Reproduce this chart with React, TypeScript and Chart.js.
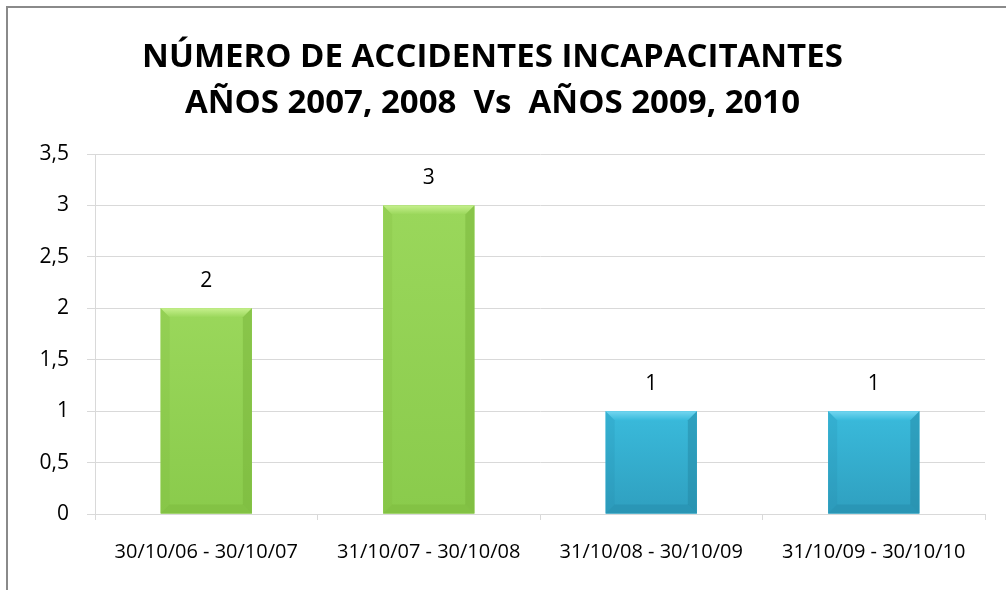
import React, { useEffect, useRef } from "react";
import { Chart, registerables } from "chart.js";

Chart.register(...registerables);

const categories = [
  "30/10/06 - 30/10/07",
  "31/10/07 - 30/10/08",
  "31/10/08 - 30/10/09",
  "31/10/09 - 30/10/10",
];
const accidentes = [2, 3, 1, 1];
const titleLines = [
  "NÚMERO DE ACCIDENTES INCAPACITANTES",
  "AÑOS 2007, 2008  Vs  AÑOS 2009, 2010",
];
const yMin = 0;
const yMax = 3.5;
const yStep = 0.5;

const green = { face: "#9ad75b", top: "#c6f08d", dark: "#78b43a", side: "#8acb4c" };
const blue = { face: "#3abbdc", top: "#74d6f0", dark: "#2387a4", side: "#2f9fbf" };
const palette = [green, green, blue, blue];

const bevelPlugin = {
  id: "bevel",
  afterDatasetsDraw(chart: any) {
    const ctx = chart.ctx;
    const meta = chart.getDatasetMeta(0);
    meta.data.forEach((bar: any, i: number) => {
      const c = palette[i];
      const left = bar.x - bar.width / 2;
      const right = bar.x + bar.width / 2;
      const top = bar.y;
      const bottom = bar.base;
      const b = 9;
      ctx.save();
      const g = ctx.createLinearGradient(0, top, 0, bottom);
      g.addColorStop(0, c.face);
      g.addColorStop(1, c.side);
      ctx.fillStyle = g;
      ctx.fillRect(left, top, right - left, bottom - top);
      const tg = ctx.createLinearGradient(0, top, 0, top + b);
      tg.addColorStop(0, c.top);
      tg.addColorStop(1, c.face);
      ctx.fillStyle = tg;
      ctx.beginPath();
      ctx.moveTo(left, top);
      ctx.lineTo(right, top);
      ctx.lineTo(right - b, top + b);
      ctx.lineTo(left + b, top + b);
      ctx.closePath();
      ctx.fill();
      ctx.fillStyle = c.dark;
      ctx.globalAlpha = 0.5;
      ctx.beginPath();
      ctx.moveTo(right, top);
      ctx.lineTo(right, bottom);
      ctx.lineTo(right - b, bottom - b);
      ctx.lineTo(right - b, top + b);
      ctx.closePath();
      ctx.fill();
      ctx.globalAlpha = 0.4;
      ctx.beginPath();
      ctx.moveTo(left, bottom);
      ctx.lineTo(right, bottom);
      ctx.lineTo(right - b, bottom - b);
      ctx.lineTo(left + b, bottom - b);
      ctx.closePath();
      ctx.fill();
      ctx.globalAlpha = 0.18;
      ctx.beginPath();
      ctx.moveTo(left, top);
      ctx.lineTo(left + b, top + b);
      ctx.lineTo(left + b, bottom - b);
      ctx.lineTo(left, bottom);
      ctx.closePath();
      ctx.fill();
      ctx.restore();
    });
  },
};

const labelPlugin = {
  id: "valueLabels",
  afterDatasetsDraw(chart: any) {
    const ctx = chart.ctx;
    const meta = chart.getDatasetMeta(0);
    ctx.save();
    ctx.font = "21px 'Open Sans'";
    ctx.fillStyle = "#000";
    ctx.textAlign = "center";
    ctx.textBaseline = "middle";
    meta.data.forEach((bar: any, i: number) => {
      ctx.fillText(String(accidentes[i]), bar.x, bar.y - 27);
    });
    ctx.restore();
  },
};

export default function App() {
  const ref = useRef<HTMLCanvasElement>(null);
  useEffect(() => {
    if (!ref.current) return;
    const chart = new Chart(ref.current, {
      type: "bar",
      data: {
        labels: categories,
        datasets: [
          {
            data: accidentes,
            backgroundColor: palette.map((p) => p.face),
            borderWidth: 0,
            barPercentage: 0.41,
            categoryPercentage: 1,
          },
        ],
      },
      options: {
        responsive: false,
        animation: false,
        layout: { padding: { left: 0, right: 21, top: 0, bottom: 6 } },
        plugins: {
          legend: { display: false },
          tooltip: { enabled: false },
          title: {
            display: true,
            text: titleLines,
            color: "#000",
            font: { family: "'Open Sans'", size: 33, weight: "bold", lineHeight: 46 / 33 },
            padding: { top: 35, bottom: 27 },
          },
        },
        scales: {
          x: {
            grid: {
              offset: true,
              drawOnChartArea: false,
              drawTicks: true,
              tickLength: 6,
              color: "#d9d9d9",
            },
            border: { color: "#d9d9d9", width: 1 },
            ticks: {
              color: "#000",
              padding: 20,
              font: { family: "'Open Sans'", size: 20 },
              maxRotation: 0,
            },
          },
          y: {
            min: yMin,
            max: yMax,
            afterFit: (scale: any) => {
              scale.width = 95;
            },
            grid: { color: "#d9d9d9", tickLength: 8 },
            border: { color: "#d9d9d9" },
            ticks: {
              stepSize: yStep,
              color: "#000",
              padding: 18,
              font: { family: "'Open Sans'", size: 21 },
              callback: (v: any) => String(v).replace(".", ","),
            },
          },
        },
      },
      plugins: [bevelPlugin, labelPlugin],
    });
    return () => chart.destroy();
  }, []);

  return (
    <div style={{ position: "fixed", left: 0, top: 0, width: 1006, height: 590, overflow: "hidden", background: "#fff" }}>
      <div
        style={{
          position: "absolute",
          left: 6,
          top: 6,
          width: 1100,
          height: 700,
          border: "2px solid #8a8a8a",
          boxSizing: "border-box",
        }}
      />
      <canvas ref={ref} width={1006} height={590} style={{ position: "absolute", left: 0, top: 0 }} />
    </div>
  );
}
